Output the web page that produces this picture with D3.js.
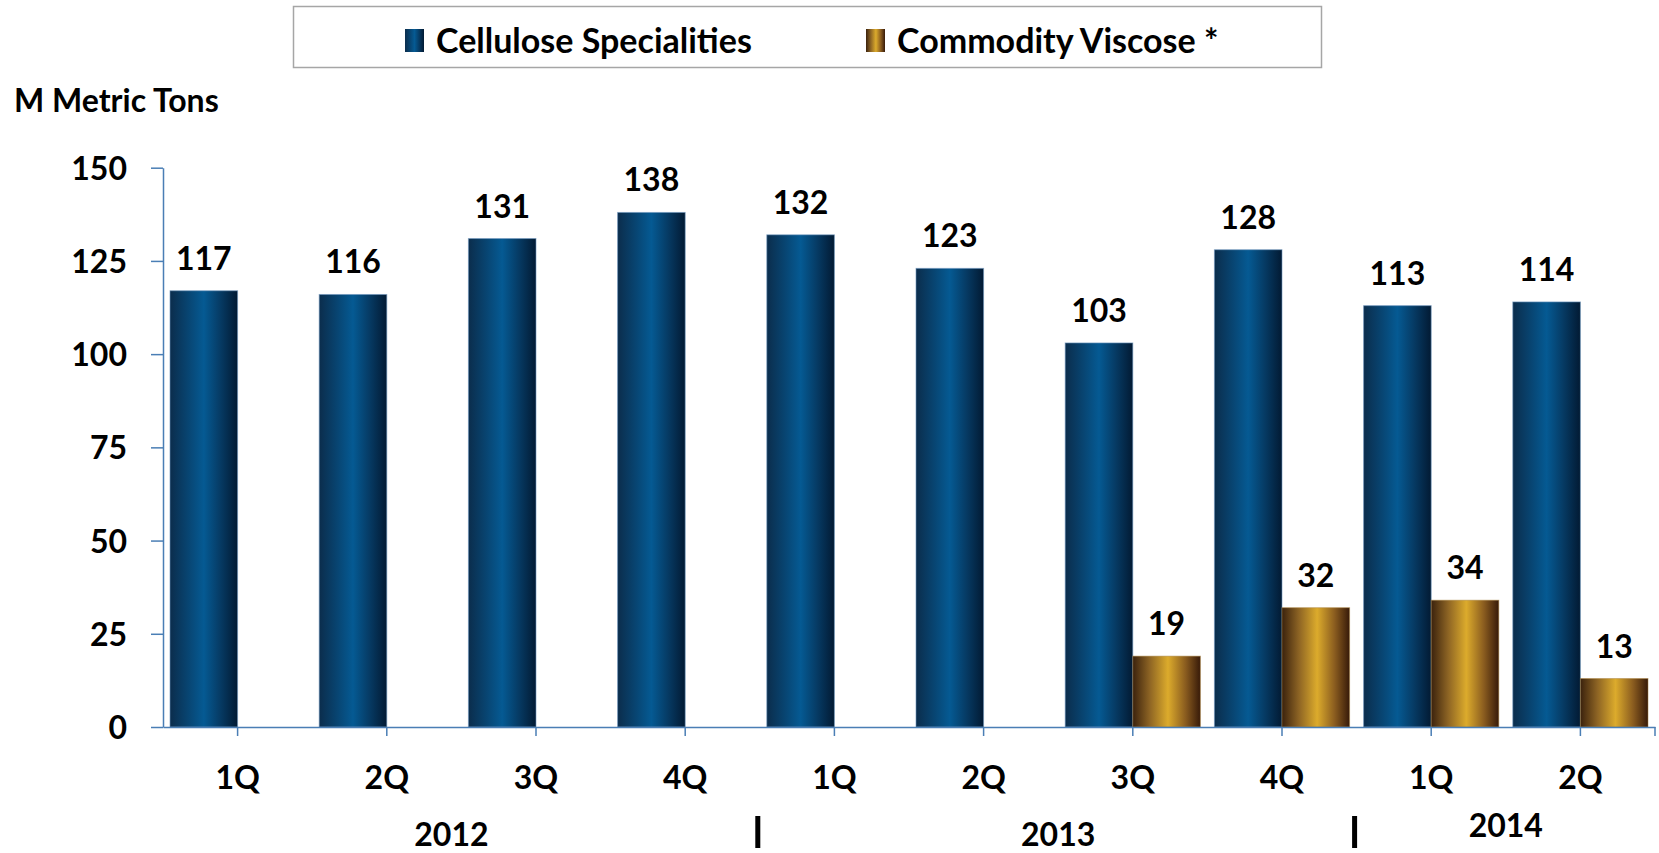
<!DOCTYPE html>
<html>
<head>
<meta charset="utf-8">
<script src="https://cdn.jsdelivr.net/npm/d3@7"></script>
<style>
	body { margin: 0; background: #fff; }
	svg text { font-family: Lato, 'Open Sans', sans-serif; font-weight: bold; fill: #000; }
</style>
</head>
<body>
<div id="chart"></div>
<script>
// data
var quarters = ['1Q', '2Q', '3Q', '4Q', '1Q', '2Q', '3Q', '4Q', '1Q', '2Q'];
var years = ['2012', '2013', '2014'];
var yearOfQuarter = [0, 0, 0, 0, 1, 1, 1, 1, 2, 2];
var cellulose = [117, 116, 131, 138, 132, 123, 103, 128, 113, 114];
var viscose = [null, null, null, null, null, null, 19, 32, 34, 13];
var seriesNames = ['Cellulose Specialities', 'Commodity Viscose *'];
var yTicks = [0, 25, 50, 75, 100, 125, 150];

var width = 1659;
var height = 853;
var plotLeft = 163;
var plotRight = 1655;
var plotBottom = 727;
var plotTop = 167.7;
var axisColor = '#4a7eb5';

var svg = d3.select('#chart')
	.append('svg')
	.attr('width', width)
	.attr('height', height);

// gradients
var defs = svg.append('defs');
function gradient(id, stops) {
	var g = defs.append('linearGradient')
		.attr('id', id)
		.attr('x1', '0%').attr('x2', '100%')
		.attr('y1', '0%').attr('y2', '0%');
	stops.forEach(function(s) {
		g.append('stop').attr('offset', s[0]).attr('stop-color', s[1]);
	});
}
gradient('blueGrad', [['0%', '#0b2d4c'], ['25%', '#08436f'], ['50%', '#055a93'], ['75%', '#063a63'], ['100%', '#021a33']]);
gradient('goldGrad', [['0%', '#3b220d'], ['25%', '#8d6424'], ['52%', '#dcab2c'], ['78%', '#8a5c1f'], ['100%', '#371a09']]);
var fills = ['url(#blueGrad)', 'url(#goldGrad)'];
var edges = ['rgba(110,150,190,0.6)', 'rgba(170,130,60,0.5)'];

var x = d3.scaleBand()
	.domain(d3.range(quarters.length))
	.range([plotLeft, plotRight])
	.padding(0);

var xSub = d3.scaleBand()
	.domain([0, 1])
	.range([0, x.bandwidth()])
	.paddingInner(0)
	.paddingOuter(0.1035);

var y = d3.scaleLinear()
	.domain([0, 150])
	.range([plotBottom, plotTop]);

// y axis
var yAxis = svg.append('g')
	.attr('transform', 'translate(' + plotLeft + ',0)')
	.call(d3.axisLeft(y).tickValues(yTicks).tickSize(12).tickPadding(24).tickSizeOuter(0));
yAxis.select('.domain').attr('stroke', axisColor).attr('stroke-width', 1.5);
yAxis.selectAll('.tick line').attr('stroke', axisColor).attr('stroke-width', 1.5);
yAxis.selectAll('.tick text')
	.style('font-size', '32px')
	.attr('dy', '0.36em');

// bars and value labels
[cellulose, viscose].forEach(function(series, s) {
	var pts = series
		.map(function(v, i) { return { i: i, v: v }; })
		.filter(function(d) { return d.v != null; });

	svg.append('g')
		.selectAll('rect')
		.data(pts)
		.join('rect')
		.attr('x', function(d) { return x(d.i) + xSub(s); })
		.attr('width', xSub.bandwidth())
		.attr('y', function(d) { return y(d.v); })
		.attr('height', function(d) { return y(0) - y(d.v); })
		.attr('fill', fills[s])
		.attr('stroke', edges[s])
		.attr('stroke-width', 1);

	svg.append('g')
		.selectAll('text')
		.data(pts)
		.join('text')
		.attr('x', function(d) { return x(d.i) + xSub(s) + xSub.bandwidth() / 2; })
		.attr('y', function(d) { return y(d.v) - 21; })
		.attr('text-anchor', 'middle')
		.style('font-size', '32px')
		.text(function(d) { return d.v; });
});

// x axis
var xAxis = svg.append('g')
	.attr('transform', 'translate(0,' + plotBottom + ')')
	.call(d3.axisBottom(x).tickSize(9).tickSizeOuter(0).tickFormat(function(i) { return quarters[i]; }));
xAxis.select('.domain').attr('stroke', axisColor).attr('stroke-width', 1.5);
xAxis.selectAll('.tick line').attr('stroke', axisColor).attr('stroke-width', 1.5);
xAxis.selectAll('.tick text')
	.style('font-size', '32px')
	.attr('y', 62)
	.attr('dy', 0);
xAxis.append('line')
	.attr('x1', x.range()[1]).attr('x2', x.range()[1])
	.attr('y1', 0).attr('y2', 9)
	.attr('stroke', axisColor).attr('stroke-width', 1.5);

// year labels and separators
years.forEach(function(yr, k) {
	var idx = d3.range(quarters.length).filter(function(i) { return yearOfQuarter[i] === k; });
	var x0 = x(idx[0]);
	var x1 = x(idx[idx.length - 1]) + x.bandwidth();
	svg.append('text')
		.attr('x', (x0 + x1) / 2 + (k === 0 ? -10 : 0))
		.attr('y', k === 2 ? 837 : 846)
		.attr('text-anchor', 'middle')
		.style('font-size', '32px')
		.text(yr);
	if (k > 0) {
		svg.append('rect')
			.attr('x', x0 - 4.5)
			.attr('y', 816)
			.attr('width', 5)
			.attr('height', 32)
			.attr('fill', '#000');
	}
});

// axis title
svg.append('text')
	.attr('x', 14)
	.attr('y', 112)
	.style('font-size', '32px')
	.text('M Metric Tons');

// legend
var legend = svg.append('g');
legend.append('rect')
	.attr('x', 293.5)
	.attr('y', 6.5)
	.attr('width', 1028)
	.attr('height', 61)
	.attr('fill', '#fff')
	.attr('stroke', '#a6a6a6')
	.attr('stroke-width', 1.5);
var legendX = [405, 866];
seriesNames.forEach(function(name, s) {
	legend.append('rect')
		.attr('x', legendX[s])
		.attr('y', 29)
		.attr('width', 19)
		.attr('height', 23)
		.attr('fill', fills[s]);
	legend.append('text')
		.attr('x', legendX[s] + 31)
		.attr('y', 53)
		.style('font-size', '34px')
		.text(name);
});
</script>
</body>
</html>
